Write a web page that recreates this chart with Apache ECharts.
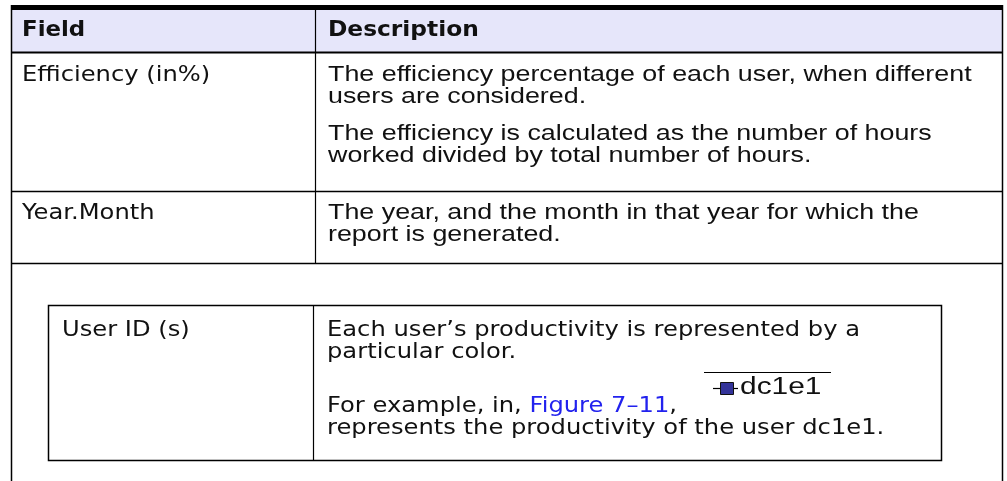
<!DOCTYPE html>
<html>
<head>
<meta charset="utf-8">
<script src="https://cdn.jsdelivr.net/npm/echarts@6/dist/echarts.min.js"></script>
<style>html,body{margin:0;padding:0;background:#fff}#c{width:1007px;height:481px}</style>
</head>
<body>
<div id="c"></div>
<script>
// ---- data ----
const headers = ['Field', 'Description'];
const fields = ['Efficiency (in%)', 'Year.Month'];
const descriptions = [
  [['The efficiency percentage of each user, when different', 'users are considered.'],
   ['The efficiency is calculated as the number of hours', 'worked divided by total number of hours.']],
  [['The year, and the month in that year for which the', 'report is generated.']]
];
const innerField = 'User ID (s)';
const innerDesc = ['Each user\u2019s productivity is represented by a', 'particular color.'];
const exampleParts = ['For example, in, ', 'Figure 7\u201311', ','];
const legendName = 'dc1e1';
const exampleTail = 'represents the productivity of the user dc1e1.';

// ---- layout / style ----
const SX = 1.1;
const FONT_L = '22px "DejaVu Sans"';
const FONT_R = '22px "Liberation Sans"';
const SX_R = 1.22;
const FONT_H = 'bold 21px "DejaVu Sans"';
const L = 11, R = 1003, COL = 315;
const headTop = 10, headBot = 52;
const rowBots = [191, 263];
const rowTextY = [[75, 97], [134, 156], [213, 235]];
const g = [];
function line(x1, y1, x2, y2, w) {
  g.push({type: 'line', silent: true, shape: {x1, y1, x2, y2}, style: {stroke: '#000', lineWidth: w || 1}});
}
function txt(x, y, s, font, color, sx) {
  g.push({type: 'text', x, y, scaleX: sx || SX, style: {text: s, x: 0, y: 0, font, fill: color || '#111', verticalAlign: 'middle'}});
}
// header
g.push({type: 'rect', shape: {x: L, y: headTop, width: R - L, height: headBot - headTop}, style: {fill: '#e6e6fa'}});
g.push({type: 'rect', shape: {x: L, y: 5, width: R - L, height: 5}, style: {fill: '#000'}});
line(L, headBot + 0.5, R, headBot + 0.5, 2);
txt(22, 31, headers[0], FONT_H, '#111', 1.09);
txt(328, 31, headers[1], FONT_H, '#111', 1.11);
// borders
line(L + 0.5, 5, L + 0.5, 481, 1.5);
line(R - 0.5, 5, R - 0.5, 481, 1.5);
line(COL + 0.5, headTop, COL + 0.5, rowBots[1], 1.2);
rowBots.forEach(y => line(L, y + 0.5, R, y + 0.5, 1.5));
// rows
txt(22, rowTextY[0][0], fields[0], FONT_L);
txt(22, rowTextY[2][0], fields[1], FONT_L);
let k = 0;
descriptions.forEach(paras => paras.forEach(p => {
  p.forEach((s, i) => txt(328, rowTextY[k][i], s, FONT_R, '#111', SX_R));
  k++;
}));
// inner table
const IL = 48, IR = 941, IT = 305, IB = 460, ICOL = 313;
g.push({type: 'rect', shape: {x: IL + 0.5, y: IT + 0.5, width: IR - IL, height: IB - IT}, style: {fill: 'none', stroke: '#000', lineWidth: 1.5}});
line(ICOL + 0.5, IT, ICOL + 0.5, IB, 1.2);
txt(62, 330, innerField, FONT_L);
txt(327, 330, innerDesc[0], FONT_L);
txt(327, 352, innerDesc[1], FONT_L);
g.push({type: 'text', x: 327, y: 406, scaleX: SX, style: {
  text: '{a|' + exampleParts[0] + '}{b|' + exampleParts[1] + '}{a|' + exampleParts[2] + '}',
  x: 0, y: 0, verticalAlign: 'middle',
  rich: {a: {fontFamily: 'DejaVu Sans', fontSize: 22, fill: '#111'}, b: {fontFamily: 'DejaVu Sans', fontSize: 22, fill: '#2222ee'}}
}});
txt(327, 428, exampleTail, FONT_L);
// legend-like sample
line(704, 372.5, 831, 372.5, 1);
line(713, 388.5, 738, 388.5, 1.2);
g.push({type: 'rect', shape: {x: 720.5, y: 382.5, width: 13, height: 12}, style: {fill: '#333399', stroke: '#111', lineWidth: 1}});
txt(740, 388, legendName, '23px "Liberation Sans"', '#111', 1.3);

const chart = echarts.init(document.getElementById('c'), null, {renderer: 'canvas'});
chart.setOption({animation: false, graphic: {elements: g}});
</script>
</body>
</html>
